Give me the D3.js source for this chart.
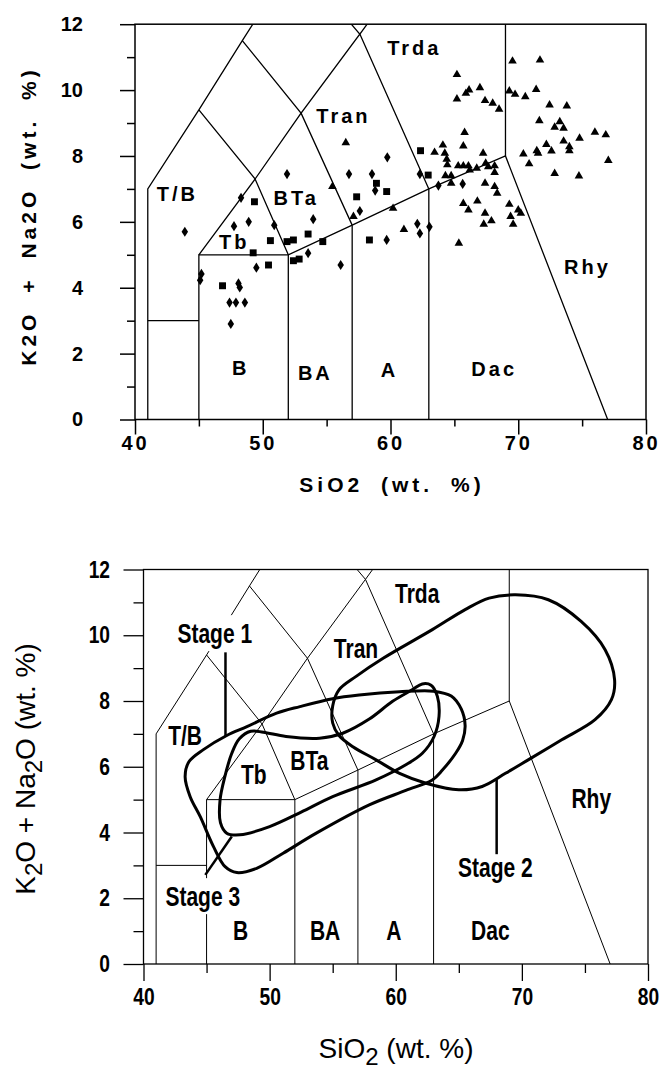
<!DOCTYPE html>
<html>
<head>
<meta charset="utf-8">
<script src="https://cdn.jsdelivr.net/npm/d3@7"></script>
<style>
  body { margin: 0; background: #fff; }
  text { font-family: "Liberation Sans", Arial, sans-serif; fill: #000; }
</style>
</head>
<body>
<script>
// TAS diagram twice: analyses on top, stage envelopes below

const siO2Major = [40, 50, 60, 70, 80];
const siO2Minor = [45, 55, 65, 75];
const alkaliMajor = [0, 2, 4, 6, 8, 10, 12];
const alkaliMinor = [1, 3, 5, 7, 9, 11];

// field boundaries, [SiO2, Na2O+K2O]
const boundaries = [
  [[41, 0], [41, 7], [45, 9.4], [48.4, 11.5], [52.5, 14]],
  [[41, 3], [45, 3]],
  [[45, 0], [45, 5], [52, 5], [57, 5.9], [63, 7], [69, 8], [77, 0]],
  [[52, 0], [52, 5]],
  [[57, 0], [57, 5.9]],
  [[63, 0], [63, 7]],
  [[69, 8], [69, 13]],
  [[45, 5], [49.4, 7.3], [52, 5]],
  [[45, 9.4], [49.4, 7.3], [53, 9.3], [57, 5.9]],
  [[48.4, 11.5], [53, 9.3], [57.6, 11.7], [63, 7]],
  [[52.5, 14], [57.6, 11.7], [61, 13.5]]
];

// top panel samples
const diamonds = [
  [43.9, 5.70], [45.2, 4.42], [45.1, 4.23], [47.75, 5.87], [48.3, 6.73], [48.9, 6.0], [50.9, 5.9],
  [51.9, 7.45], [53.95, 6.08], [53.55, 5.05], [56.1, 4.69], [49.5, 4.61], [48.1, 4.13], [48.2, 4.01],
  [47.4, 3.55], [47.9, 3.55], [48.6, 3.55], [47.5, 2.90], [56.75, 7.45], [58.55, 7.45], [59.75, 7.96],
  [58.8, 6.95], [57.6, 6.33], [59.7, 5.45], [62.1, 5.94], [62.3, 5.65], [63.05, 5.85], [62.3, 7.45],
  [63.75, 7.1], [65.65, 7.15]
];
const squares = [
  [49.35, 6.61], [57.35, 6.76], [58.9, 7.17], [59.7, 6.92], [53.55, 5.63], [54.7, 5.40], [50.6, 5.43],
  [51.9, 5.40], [52.4, 5.45], [49.25, 5.06], [52.4, 4.82], [52.85, 4.87], [50.45, 4.69], [46.85, 4.06],
  [58.35, 5.45], [62.35, 8.16], [62.95, 7.42]
];
const triangles = [
  [56.5, 8.40], [55.45, 7.07], [57.1, 6.16], [60.2, 6.41], [61.05, 5.77],
  [69.55, 10.88], [71.7, 10.91], [65.2, 10.47], [65.9, 9.9], [66.15, 10.0], [67.0, 10.07], [65.2, 9.73],
  [67.4, 9.68], [68.0, 9.6], [68.5, 9.42], [69.3, 9.97], [69.75, 9.87], [70.55, 9.8], [71.4, 10.02],
  [72.45, 9.55], [73.8, 9.52], [71.65, 9.07], [73.25, 9.04], [72.85, 8.87], [73.55, 8.84], [76.0, 8.72],
  [76.85, 8.64], [74.8, 8.54], [73.55, 8.45], [74.0, 8.28], [74.0, 8.16], [72.2, 8.35], [71.45, 8.16],
  [71.55, 8.08], [72.6, 8.15], [70.4, 8.06], [70.85, 7.76], [77.05, 7.86], [72.85, 7.47], [74.75, 7.39],
  [65.8, 8.71], [65.7, 8.3], [64.1, 8.33], [63.45, 8.11], [64.25, 8.08], [64.4, 7.9], [64.45, 7.73],
  [67.25, 8.08], [65.3, 7.7], [65.7, 7.7], [66.1, 7.7], [66.2, 7.57], [66.75, 7.63], [67.45, 7.78],
  [67.65, 7.67], [68.15, 7.7], [68.15, 7.5], [64.3, 7.4], [64.75, 7.4], [64.75, 7.17], [67.4, 7.17],
  [68.15, 7.07], [68.35, 6.87], [65.7, 6.56], [66.1, 6.36], [66.8, 6.63], [67.4, 6.26], [69.3, 6.53],
  [70.0, 6.36], [70.2, 6.26], [67.3, 5.93], [67.9, 6.03], [69.4, 6.16], [69.6, 5.93], [65.35, 5.35]
];

// bottom panel envelopes
const stage1 = [
  [43.3, 5.7], [43.6, 6.15], [44.75, 6.52], [46.6, 6.95], [48.2, 7.22], [50.55, 7.63], [52.4, 7.83],
  [55.0, 8.07], [57.1, 8.18], [60.3, 8.28], [63.0, 8.3], [64.4, 8.15], [65.2, 7.75], [65.5, 7.25],
  [65.3, 6.8], [64.75, 6.41], [63.7, 5.9], [62.9, 5.6], [60.8, 5.28], [57.9, 4.84], [53.7, 3.98],
  [51.07, 3.37], [48.97, 2.91], [47.4, 2.78], [46.47, 2.96], [45.55, 3.57], [44.5, 4.48], [43.7, 5.09]
];
const stage2 = [
  [55.0, 7.33], [55.0, 7.85], [55.5, 8.34], [56.86, 8.75], [59.0, 9.3], [62.9, 10.17], [65.5, 10.78],
  [67.4, 11.13], [69.5, 11.23], [72.1, 11.08], [74.7, 10.42], [76.6, 9.56], [77.35, 8.65], [77.1, 8.04],
  [75.8, 7.43], [73.16, 6.82], [70.5, 6.21], [68.7, 5.8], [66.85, 5.4], [65.0, 5.3], [62.4, 5.5],
  [60.3, 5.8], [58.44, 6.21], [56.6, 6.61], [55.5, 6.95]
];
const stage3 = [
  [46.07, 4.99], [46.45, 5.7], [47.0, 6.41], [47.6, 6.85], [48.5, 7.08], [49.5, 7.05], [51.3, 6.92],
  [53.96, 6.87], [55.8, 7.02], [57.9, 7.45], [59.75, 7.99], [61.3, 8.34], [62.1, 8.52], [62.8, 8.48],
  [63.3, 8.14], [63.43, 7.53], [63.04, 6.92], [62.11, 6.41], [60.8, 6.06], [58.44, 5.6], [55.0, 5.09],
  [52.5, 4.62], [50.0, 4.18], [47.65, 3.93], [46.6, 3.98], [46.1, 4.3]
];

// field names with the point they sit on
const topFields = [
  ["T/B", 43.2, 6.62], ["Tb", 47.65, 5.19], ["BTa", 52.5, 6.5], ["Tran", 56.2, 8.99],
  ["Trda", 61.75, 11.05], ["Rhy", 75.3, 4.43], ["B", 48.15, 1.34], ["BA", 54.0, 1.21],
  ["A", 59.8, 1.28], ["Dac", 68.0, 1.31]
];
const bottomFields = [
  ["T/B", 43.3, 6.66], ["Tb", 48.75, 5.48], ["BTa", 53.15, 5.9], ["Tran", 56.85, 9.31],
  ["Trda", 61.7, 10.98], ["Rhy", 75.5, 4.75], ["B", 47.7, 0.73], ["BA", 54.4, 0.73],
  ["A", 59.85, 0.73], ["Dac", 67.5, 0.73]
];
const stageNames = [["Stage 1", 45.65, 9.76], ["Stage 2", 67.9, 2.65], ["Stage 3", 44.7, 1.76]];
const stageLeaders = [
  [[46.5, 9.48], [46.5, 6.92]],
  [[68.0, 5.62], [68.0, 3.34]],
  [[44.9, 2.71], [47.0, 3.88]]
];

const svg = d3.select("body").append("svg")
  .attr("width", 662)
  .attr("height", 1069);

function drawPanel(p) {
  const x = d3.scaleLinear().domain([40, 80]).range(p.xRange);
  const y = d3.scaleLinear().domain([0, 12]).range(p.yRange);
  const line = d3.line().x(d => x(d[0])).y(d => y(d[1]));
  const g = svg.append("g");

  g.append("clipPath").attr("id", p.id).append("rect")
    .attr("x", x(40)).attr("y", y(12))
    .attr("width", x(80) - x(40)).attr("height", y(0) - y(12));

  g.append("g").attr("clip-path", `url(#${p.id})`)
    .selectAll("path").data(boundaries).join("path")
    .attr("d", line)
    .attr("fill", "none")
    .attr("stroke", "#000")
    .attr("stroke-width", p.fieldWidth);

  const ax = (axis, t) => g.append("g").attr("transform", t).call(axis)
    .call(s => s.select(".domain").remove())
    .call(s => s.selectAll("line").attr("stroke-width", p.frameWidth));

  const yAx = ax(d3.axisLeft(y).tickValues(alkaliMajor).tickSize(p.yMajor).tickPadding(p.yPad),
    `translate(${x(40)},0)`);
  ax(d3.axisLeft(y).tickValues(alkaliMinor).tickSize(p.yMinor).tickFormat(""), `translate(${x(40)},0)`);
  const xAx = ax(d3.axisBottom(x).tickValues(siO2Major).tickSize(p.xMajor).tickPadding(p.xPad),
    `translate(0,${y(0)})`);
  ax(d3.axisBottom(x).tickValues(siO2Minor).tickSize(p.xMinor).tickFormat(""), `translate(0,${y(0)})`);

  g.append("rect")
    .attr("x", x(40)).attr("y", y(12))
    .attr("width", x(80) - x(40)).attr("height", y(0) - y(12))
    .attr("fill", "none")
    .attr("stroke", "#000")
    .attr("stroke-width", p.frameWidth);

  return { g, x, y, line, xAx, yAx };
}

function condense(sel, k) {
  sel.each(function () {
    const w = this.getComputedTextLength();
    d3.select(this).attr("textLength", w * k).attr("lengthAdjust", "spacingAndGlyphs");
  });
}

// narrow the axis numbers with a real scale so their boxes shrink too
function squeeze(sel, k) {
  sel.each(function () {
    const t = d3.select(this);
    t.attr("x", (+t.attr("x") || 0) / k).attr("transform", `scale(${k},1)`);
  });
}

function fieldText(panel, data, size, ls) {
  return panel.g.append("g").selectAll("text").data(data).join("text")
    .attr("x", d => panel.x(d[1]) + ls / 2)
    .attr("y", d => panel.y(d[2]))
    .attr("text-anchor", "middle")
    .style("font-size", size + "px")
    .style("font-weight", "bold")
    .style("letter-spacing", ls + "px")
    .text(d => d[0]);
}

// ---------- top panel ----------
const topP = drawPanel({
  id: "clipTop", xRange: [135, 646], yRange: [419.5, 24.2],
  fieldWidth: 1.3, frameWidth: 1.5,
  yMajor: 15, yMinor: 8, yPad: 37, xMajor: 15, xMinor: 7, xPad: 1.5
});

topP.yAx.selectAll("text").style("font-size", "20px").style("font-weight", "bold");
topP.xAx.selectAll("text").style("font-size", "20px").style("font-weight", "bold")
  .style("letter-spacing", "3px");

fieldText(topP, topFields, 20, 3);

const markers = topP.g.append("g");
markers.selectAll(".dia").data(diamonds).join("path")
  .attr("class", "dia")
  .attr("d", d3.symbol(d3.symbolDiamond, 30))
  .attr("transform", d => `translate(${topP.x(d[0])},${topP.y(d[1])}) scale(1.1,1)`);
markers.selectAll(".sq").data(squares).join("path")
  .attr("class", "sq")
  .attr("d", d3.symbol(d3.symbolSquare, 48))
  .attr("transform", d => `translate(${topP.x(d[0])},${topP.y(d[1])})`);
markers.selectAll(".tri").data(triangles).join("path")
  .attr("class", "tri")
  .attr("d", d3.symbol(d3.symbolTriangle, 32))
  .attr("transform", d => `translate(${topP.x(d[0])},${topP.y(d[1])})`);

svg.append("text")
  .attr("x", 392).attr("y", 492)
  .attr("text-anchor", "middle")
  .style("font-size", "21px").style("font-weight", "bold")
  .style("letter-spacing", "4px").style("word-spacing", "8px")
  .text("SiO2 (wt. %)");

svg.append("text")
  .attr("transform", "translate(36,216) rotate(-90)")
  .attr("text-anchor", "middle")
  .style("font-size", "21px").style("font-weight", "bold")
  .style("letter-spacing", "4px").style("word-spacing", "8px")
  .text("K2O + Na2O (wt. %)");

// ---------- bottom panel ----------
const botP = drawPanel({
  id: "clipBot", xRange: [143.5, 648], yRange: [964, 569.5],
  fieldWidth: 1, frameWidth: 1.3,
  yMajor: 20, yMinor: 10, yPad: 13.5, xMajor: 17, xMinor: 9, xPad: 7
});

botP.yAx.selectAll("text").style("font-size", "24px").style("font-weight", "bold").call(squeeze, 0.8);
botP.xAx.selectAll("text").style("font-size", "24px").style("font-weight", "bold").call(squeeze, 0.8);

fieldText(botP, bottomFields, 28, 0).call(condense, 0.75);

// stage names sit on white patches that break the field lines
const stageG = botP.g.append("g");
stageG.selectAll("text").data(stageNames).join("text")
  .attr("x", d => botP.x(d[1]))
  .attr("y", d => botP.y(d[2]))
  .attr("text-anchor", "middle")
  .style("font-size", "28px")
  .style("font-weight", "bold")
  .text(d => d[0])
  .call(condense, 0.75)
  .each(function () {
    const b = this.getBBox();
    stageG.insert("rect", "text")
      .attr("x", b.x - 3).attr("y", b.y - 3)
      .attr("width", b.width + 6).attr("height", b.height + 5)
      .attr("fill", "#fff");
  });

const envLine = d3.line()
  .x(d => botP.x(d[0]))
  .y(d => botP.y(d[1]))
  .curve(d3.curveCatmullRomClosed.alpha(0.5));

botP.g.append("g").selectAll("path").data([stage1, stage2, stage3]).join("path")
  .attr("d", envLine)
  .attr("fill", "none")
  .attr("stroke", "#000")
  .attr("stroke-width", 3);

botP.g.append("g").selectAll("path").data(stageLeaders).join("path")
  .attr("d", botP.line)
  .attr("stroke", "#000")
  .attr("stroke-width", 2.5);

const xt = svg.append("text")
  .attr("x", 396).attr("y", 1058)
  .attr("text-anchor", "middle")
  .style("font-size", "28px");
xt.append("tspan").text("SiO");
xt.append("tspan").attr("dy", 7).style("font-size", "24px").text("2");
xt.append("tspan").attr("dy", -7).text(" (wt. %)");

const yt = svg.append("text")
  .attr("transform", "translate(35,769) rotate(-90)")
  .attr("text-anchor", "middle")
  .style("font-size", "28px");
yt.append("tspan").text("K");
yt.append("tspan").attr("dy", 7).style("font-size", "24px").text("2");
yt.append("tspan").attr("dy", -7).text("O + Na");
yt.append("tspan").attr("dy", 7).style("font-size", "24px").text("2");
yt.append("tspan").attr("dy", -7).text("O  (wt. %)");
</script>
</body>
</html>
